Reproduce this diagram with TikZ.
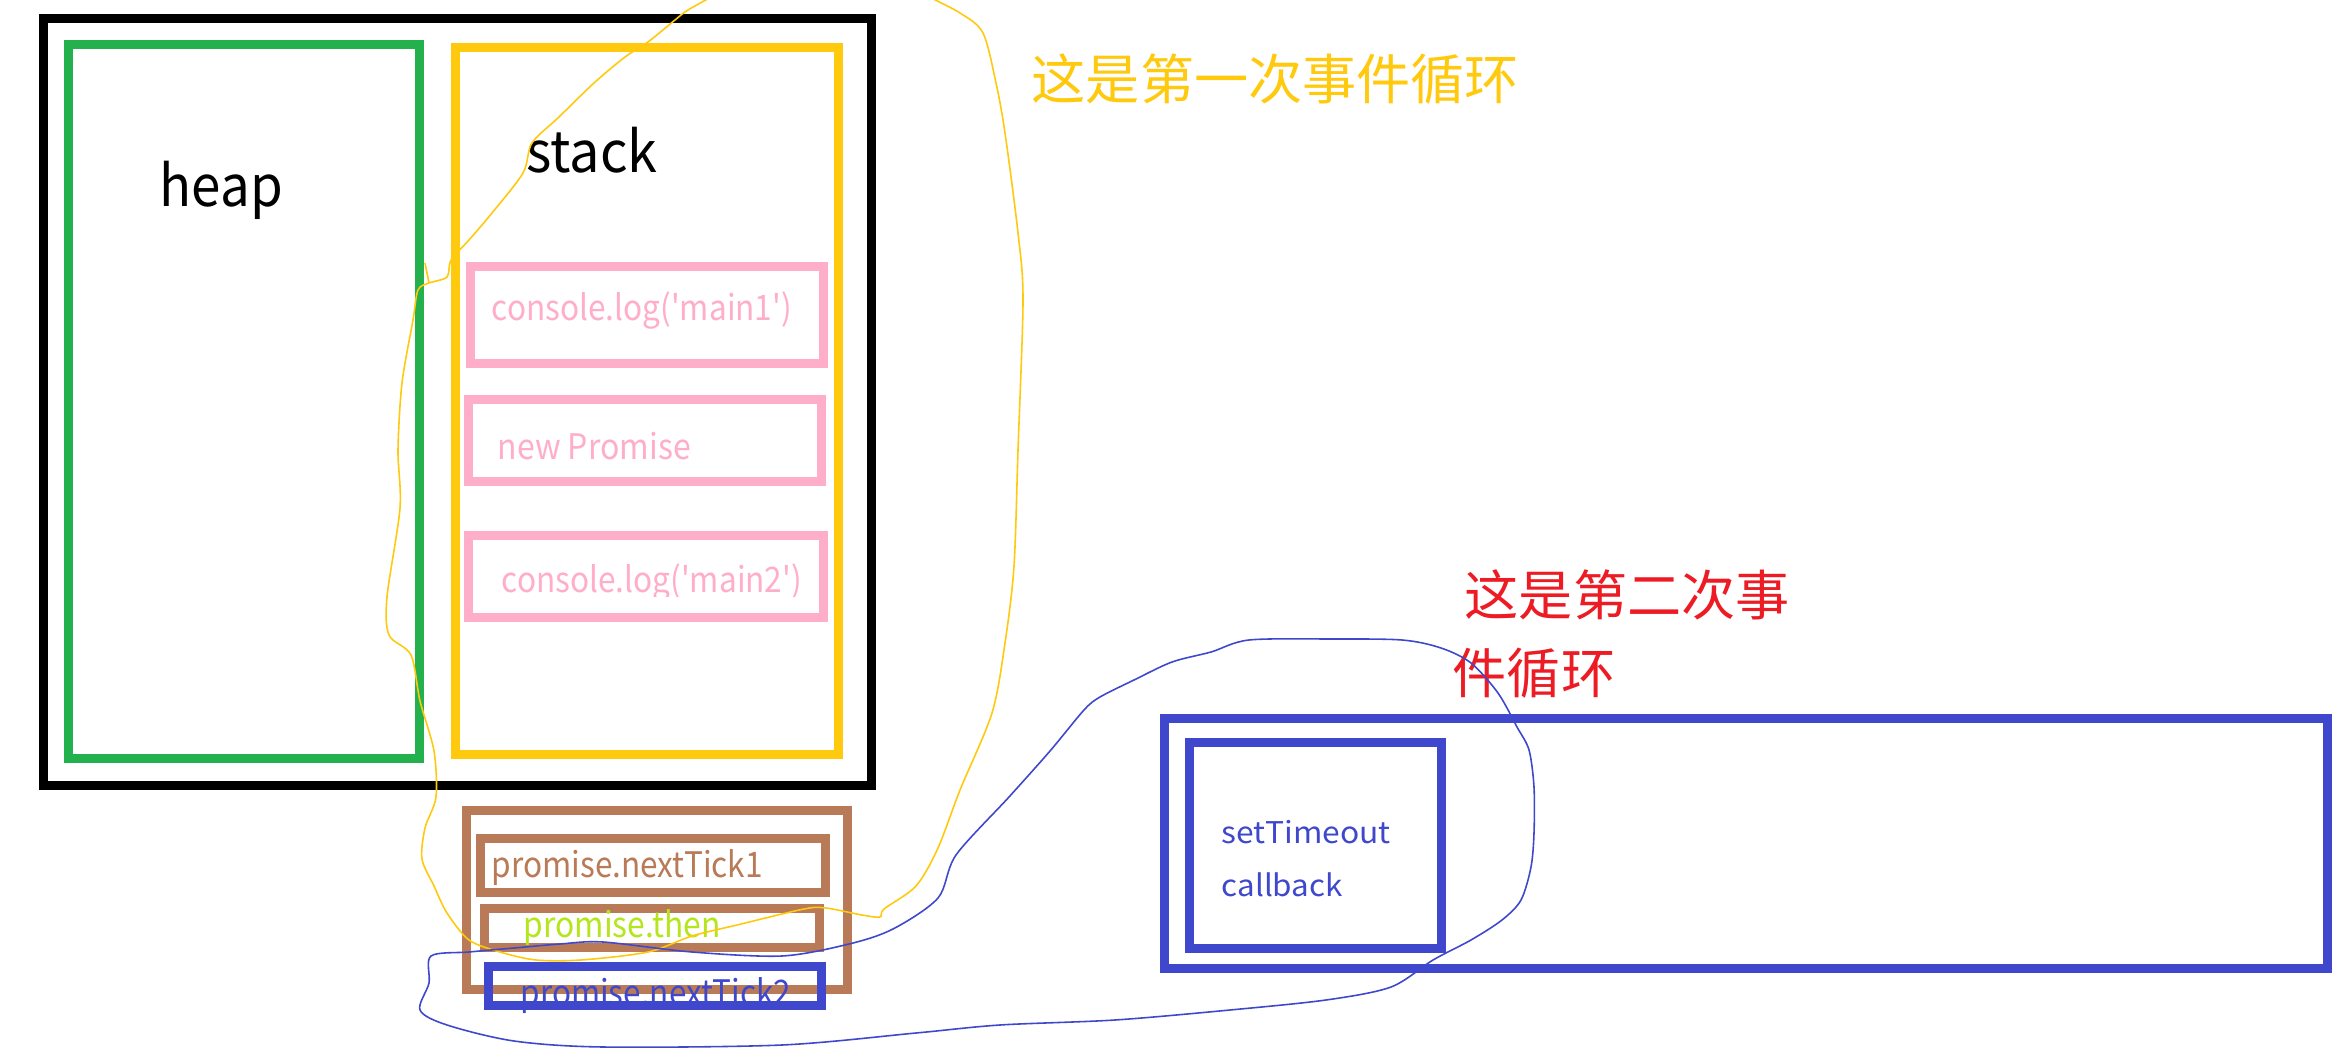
\documentclass[tikz,border=0pt]{standalone}
\usepackage{fontspec}
\setmainfont{Noto Sans CJK SC}
\usepackage{graphicx}
\newcommand{\wideto}[2]{\resizebox{#1}{\height}{#2}}
\newcommand{\sq}{\textquotesingle}
\definecolor{mgreen}{HTML}{22B14C}
\definecolor{mgold}{HTML}{FFC90E}
\definecolor{mrose}{HTML}{FFAEC9}
\definecolor{mbrown}{HTML}{B97A57}
\definecolor{mindigo}{HTML}{3F48CC}
\definecolor{mred}{HTML}{ED1C24}
\definecolor{mlime}{HTML}{B5E61D}

\begin{document}
\begin{tikzpicture}[x=0.01cm,y=-0.01cm]
      \tikzstyle{box}=[rectangle,line width=2.56pt,inner sep=0pt]
      \tikzstyle{lbl}=[anchor=base west,inner sep=0pt]
      \tikzstyle{big}=[lbl,font=\fontsize{16.2}{19}\selectfont]
      \tikzstyle{small}=[lbl,font=\fontsize{10}{12}\selectfont]
      \tikzstyle{tiny}=[lbl,font=\fontsize{8.5}{10}\selectfont]
      \tikzstyle{cjk}=[lbl,font=\fontsize{15.4}{18}\selectfont]
      \tikzstyle{loop}=[line width=0.45pt,line join=round]

      \useasboundingbox[fill=white] (0,0) rectangle (2336,1058);

      \node[box,draw=black,minimum width=8.27cm,minimum height=7.66cm] (mem) at (457.5,402) {};
      \node[box,draw=mgreen,minimum width=3.50cm,minimum height=7.13cm] (heapbox) at (244,401.5) {};
      \node[box,draw=mgold,minimum width=3.82cm,minimum height=7.06cm] (stackbox) at (647,401) {};
      \node[box,draw=mrose,minimum width=3.52cm,minimum height=0.96cm] (main1box) at (647,315) {};
      \node[box,draw=mrose,minimum width=3.52cm,minimum height=0.81cm] (newbox) at (645,440.5) {};
      \node[box,draw=mrose,minimum width=3.54cm,minimum height=0.81cm] (main2box) at (646,576.5) {};

      \node[big] (heap) at (159,207) {\wideto{1.23cm}{heap}};
      \node[big] (stack) at (526,173) {\wideto{1.31cm}{stack}};
      \node[small,text=mrose] (main1) at (491,321) {\wideto{3.00cm}{console.log(\sq main1\sq)}};
      \node[small,text=mrose] (newp) at (497,459) {\wideto{1.93cm}{new Promise}};
      \begin{scope}
        \clip (460,530) rectangle (830,596);
        \node[small,text=mrose] (main2) at (501,593) {\wideto{3.00cm}{console.log(\sq main2\sq)}};
      \end{scope}

      \node[box,draw=mbrown,minimum width=3.80cm,minimum height=1.78cm] (micro) at (657,900) {};
      \node[box,draw=mbrown,minimum width=3.44cm,minimum height=0.53cm] (tick1box) at (653,865.5) {};
      \node[box,draw=mbrown,minimum width=3.34cm,minimum height=0.38cm] (thenbox) at (652,928) {};
      \node[small,text=mbrown] (tick1) at (491,877) {\wideto{2.71cm}{promise.nextTick1}};
      \node[small,text=mlime] (then) at (523,937) {\wideto{1.97cm}{promise.then}};
      \node[small,text=mindigo] (tick2) at (520,1005) {\wideto{2.70cm}{promise.nextTick2}};
      \node[box,draw=mindigo,minimum width=3.32cm,minimum height=0.38cm] (tick2box) at (655,986) {};

      \node[box,draw=mindigo,minimum width=11.62cm,minimum height=2.49cm] (macro) at (1746,843.5) {};
      \node[box,draw=mindigo,minimum width=2.51cm,minimum height=2.05cm] (timerbox) at (1315.5,845.5) {};
      \node[tiny,text=mindigo] (timer) at (1221,843) {\wideto{1.69cm}{setTimeout}};
      \node[tiny,text=mindigo] (cb) at (1221,896) {\wideto{1.21cm}{callback}};

      \node[cjk,text=mgold] (first) at (1031,100) {这是第一次事件循环};
      \node[cjk,text=mred] (second1) at (1464,615) {这是第二次事};
      \node[cjk,text=mred] (second2) at (1452,693) {件循环};

      \begin{scope}
        \clip (0,0) rectangle (2336,1058);
        \draw[loop,mgold] plot[smooth,tension=0.5] coordinates {
          (715,-5) (688,10) (675,20) (648,42) (625,57) (594,83) (559,117)
          (532,143) (523,173) (492,213) (469,240) (451,260) (447,277) (429,283)
          (418,290) (413,320) (402,383) (398,450) (400,508) (387,597) (389,635)
          (411,655) (420,701) (434,751) (436,797) (425,828) (422,859) (434,886)
          (447,913) (469,940) (500,952) (536,960) (581,960) (648,952) (692,936)
          (737,925) (804,909) (826,908) (862,915) (880,917) (884,909) (916,886)
          (938,848) (960,790) (992,713) (1005,643) (1014,566) (1018,450)
          (1023,300) (1018,233) (1005,133) (996,83) (983,33) (960,13) (925,-5)};
        \draw[loop,mgold] (425,263) -- (429,283);
        \draw[loop,mindigo] plot[smooth cycle,tension=0.5] coordinates {
          (431,956) (469,952) (514,948) (560,944) (603,942) (692,952) (782,956)
          (849,944) (893,929) (938,898) (956,855) (1009,797) (1050,751)
          (1084,710) (1100,697) (1134,680) (1172,662) (1211,652) (1249,640)
          (1330,639) (1402,640) (1441,648) (1471,663) (1498,693) (1517,727)
          (1529,750) (1534,787) (1534,833) (1531,867) (1521,900) (1502,920)
          (1471,940) (1433,960) (1391,987) (1326,1000) (1230,1010) (1115,1020)
          (1000,1025) (916,1033) (782,1045) (603,1047) (514,1041) (447,1025)
          (420,1010) (429,983)};
      \end{scope}
\end{tikzpicture}
\end{document}
